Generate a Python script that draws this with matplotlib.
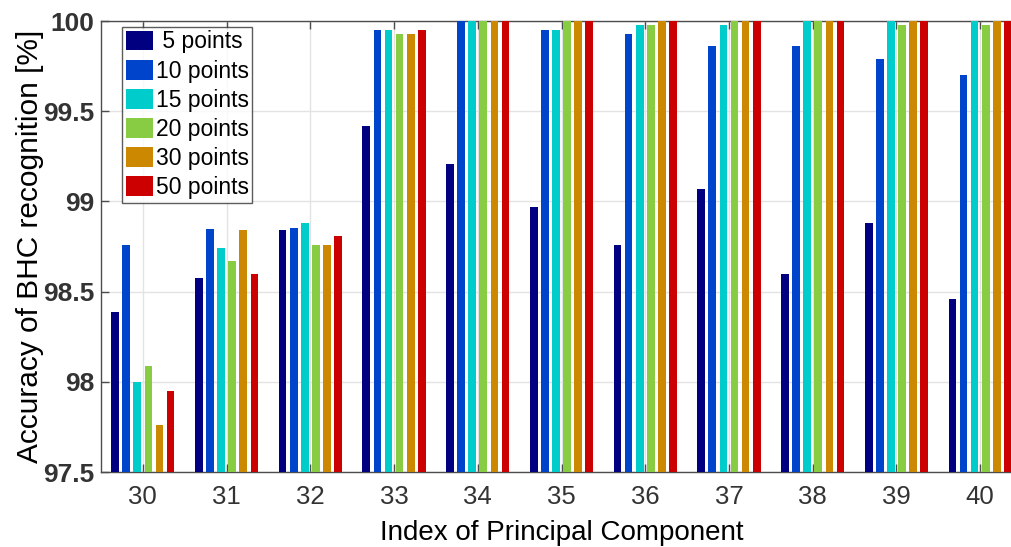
import numpy as np
import matplotlib
matplotlib.use("Agg")
import matplotlib.pyplot as plt

components = [30, 31, 32, 33, 34, 35, 36, 37, 38, 39, 40]
series_names = [" 5 points", "10 points", "15 points", "20 points", "30 points", "50 points"]
colors = ["#000080", "#0044cc", "#00cccc", "#88cc44", "#cc8800", "#cc0000"]

acc_5 = [98.39, 98.575, 98.84, 99.42, 99.21, 98.97, 98.76, 99.07, 98.60, 98.88, 98.46]
acc_10 = [98.76, 98.85, 98.855, 99.95, 100.0, 99.95, 99.93, 99.86, 99.86, 99.79, 99.70]
acc_15 = [98.00, 98.74, 98.88, 99.95, 100.0, 99.95, 99.98, 99.98, 100.0, 100.0, 100.0]
acc_20 = [98.09, 98.67, 98.76, 99.93, 100.0, 100.0, 99.98, 100.0, 100.0, 99.98, 99.98]
acc_30 = [97.76, 98.84, 98.76, 99.93, 100.0, 100.0, 100.0, 100.0, 100.0, 100.0, 100.0]
acc_50 = [97.95, 98.60, 98.81, 99.95, 100.0, 100.0, 100.0, 100.0, 100.0, 100.0, 100.0]
series = [acc_5, acc_10, acc_15, acc_20, acc_30, acc_50]

plt.rcParams["font.family"] = ["Liberation Sans", "DejaVu Sans"]

fig = plt.figure(figsize=(10.11, 5.47), dpi=100)
ax = fig.add_axes([0.0999, 0.137, 0.911, 0.8245])

x = np.array(components, dtype=float)
step = 0.1327
width = 0.092
base = 97.5
for i, (vals, name, col) in enumerate(zip(series, series_names, colors)):
    off = (i - 2.5) * step
    ax.bar(x + off, np.array(vals) - base, width=width, bottom=base,
           color=col, label=name, edgecolor="none", zorder=3)

ax.set_xlim(29.5, 40.5)
ax.set_ylim(97.5, 100)
ax.set_xticks(components)
ax.set_yticks([97.5, 98, 98.5, 99, 99.5, 100])
ax.set_yticklabels(["97.5", "98", "98.5", "99", "99.5", "100"])
ax.grid(True, color="#e3e3e3", lw=1.0, zorder=0)
ax.set_axisbelow(True)
for side in ["left", "top", "bottom", "right"]:
    ax.spines[side].set_color("#4d4d4d")
    ax.spines[side].set_linewidth(1.0)
ax.tick_params(axis="both", direction="in", length=6, width=1.0,
               color="#4d4d4d", top=True, right=True, labelcolor="#333333")
ax.tick_params(axis="y", labelsize=19, pad=5)
ax.tick_params(axis="x", labelsize=18.5, pad=9)
for lbl in ax.get_yticklabels():
    lbl.set_fontweight("bold")

ax.set_xlabel("Index of Principal Component", fontsize=20, color="#000000", labelpad=8)
ax.set_ylabel("Accuracy of BHC recognition [%]", fontsize=21.5, color="#000000", labelpad=-1)

leg = ax.legend(loc="upper left", bbox_to_anchor=(0.0233, 0.987), fontsize=16.5,
                frameon=True, fancybox=False, edgecolor="#333333",
                handlelength=1.18, handleheight=0.96, handletextpad=0.12,
                labelspacing=0.27, borderpad=0.15, borderaxespad=0.0)
leg.get_frame().set_linewidth(1.0)

fig.savefig("out.png", dpi=100)
